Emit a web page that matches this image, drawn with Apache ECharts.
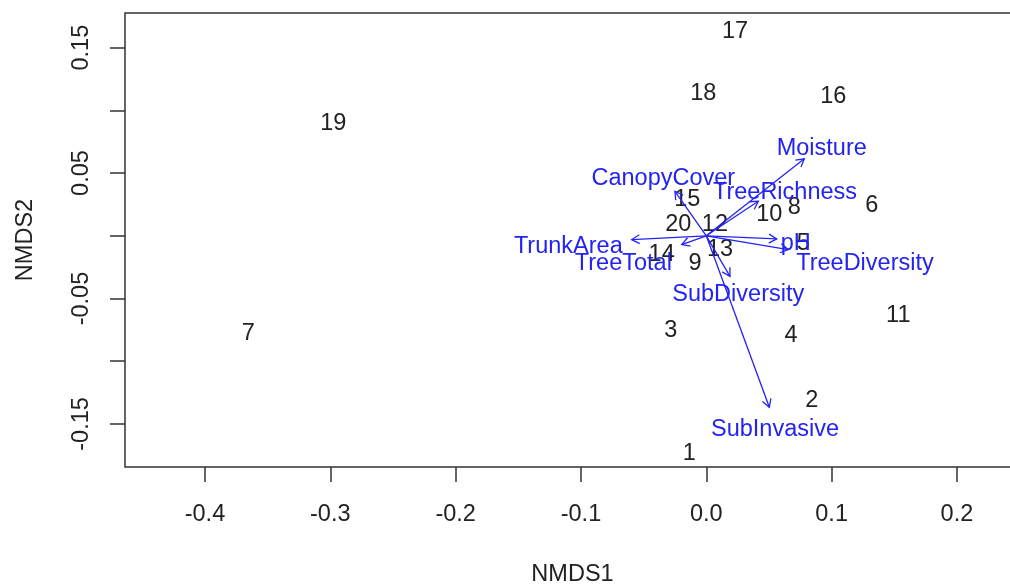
<!DOCTYPE html>
<html>
<head>
<meta charset="utf-8">
<script src="https://cdn.jsdelivr.net/npm/echarts@6/dist/echarts.min.js"></script>
<style>
html,body{margin:0;padding:0;background:#fff;}
#chart{width:1010px;height:585px;}
</style>
</head>
<body>
<div id="chart"></div>
<script>
// Site scores (NMDS1, NMDS2)
const sites = ['1','2','3','4','5','6','7','8','9','10','11','12','13','14','15','16','17','18','19','20'];
const nmds1 = [-0.0136, 0.0841, -0.0284, 0.0676, 0.0774, 0.1320, -0.3654, 0.0702, -0.0090, 0.0503, 0.1532, 0.0069, 0.0109, -0.0356, -0.0152, 0.1013, 0.0229, -0.0024, -0.2976, -0.0223];
const nmds2 = [-0.1721, -0.1295, -0.0736, -0.0776, -0.0049, 0.0257, -0.0763, 0.0241, -0.0204, 0.0183, -0.0616, 0.0103, -0.0097, -0.0132, 0.0303, 0.1128, 0.1645, 0.1154, 0.0907, 0.0103];

// Environmental fit vectors (arrow tips) and label positions
const variables = ['Moisture','TreeRichness','CanopyCover','TrunkArea','TreeTotal','pH','TreeDiversity','SubDiversity','SubInvasive'];
const arrowX = [0.0782, 0.0415, -0.0250, -0.0595, -0.0196, 0.0562, 0.0654, 0.0189, 0.0503];
const arrowY = [0.0614, 0.0276, 0.0355, -0.0030, -0.0070, -0.0025, -0.0110, -0.0323, -0.1367];
const labelX = [0.0921, 0.0628, -0.0343, -0.1101, -0.0662, 0.0714, 0.1266, 0.0255, 0.0548];
const labelY = [0.0710, 0.0361, 0.0475, -0.0070, -0.0204, -0.0046, -0.0204, -0.0456, -0.1526];

// Axis ticks
const xTicks = [-0.4, -0.3, -0.2, -0.1, 0.0, 0.1, 0.2];
const yTicks = [-0.15, -0.10, -0.05, 0.00, 0.05, 0.10, 0.15];
const yTickLabels = [-0.15, -0.05, 0.05, 0.15];

const FONT = '"Liberation Sans", Arial, sans-serif';
const BLUE = '#2323f2';
const INK = '#222';
const FS = 23.5;

const chart = echarts.init(document.getElementById('chart'), null, {renderer: 'canvas'});

const siteData = sites.map((s, i) => [nmds1[i], nmds2[i]]);
const arrowData = variables.map((v, i) => [arrowX[i], arrowY[i]]);
const arrowLabelData = variables.map((v, i) => [labelX[i], labelY[i]]);

function textItem(label, color) {
  return function (params, api) {
    const p = api.coord([api.value(0), api.value(1)]);
    return {
      type: 'text', x: p[0], y: p[1] + 2,
      style: {text: label[params.dataIndex], fill: color, fontSize: FS, fontFamily: FONT,
        align: 'center', verticalAlign: 'middle'}
    };
  };
}

chart.setOption({
  backgroundColor: '#fff',
  animation: false,
  grid: {
    left: 125, top: 13, width: 895, height: 454,
    outerBoundsMode: 'none', containLabel: false,
    show: true, borderColor: '#333', borderWidth: 1.5, backgroundColor: 'transparent'
  },
  xAxis: {
    type: 'value',
    min: -0.4638, max: 0.2503,
    splitLine: {show: false},
    axisLine: {show: false, onZero: false},
    axisTick: {show: true, length: 15, customValues: xTicks, lineStyle: {color: '#333', width: 1.5}},
    axisLabel: {show: true, customValues: xTicks, margin: 36, fontSize: FS, color: INK, fontFamily: FONT,
      formatter: v => v.toFixed(1)},
    name: 'NMDS1', nameLocation: 'middle', nameGap: 96,
    nameTextStyle: {fontSize: FS, color: INK, fontFamily: FONT}
  },
  yAxis: {
    type: 'value',
    min: -0.1843, max: 0.1776,
    splitLine: {show: false},
    axisLine: {show: false, onZero: false},
    axisTick: {show: true, length: 15, customValues: yTicks, lineStyle: {color: '#333', width: 1.5}},
    axisLabel: {show: true, customValues: yTickLabels, rotate: 90, margin: 31, fontSize: FS, color: INK, fontFamily: FONT,
      formatter: v => v.toFixed(2)},
    name: 'NMDS2', nameLocation: 'middle', nameGap: 87, nameRotate: 90,
    nameTextStyle: {fontSize: FS, color: INK, fontFamily: FONT}
  },
  series: [
    {
      type: 'custom',
      name: 'sites',
      coordinateSystem: 'cartesian2d',
      data: siteData,
      renderItem: textItem(sites, INK),
      z: 3
    },
    {
      type: 'custom',
      name: 'arrows',
      coordinateSystem: 'cartesian2d',
      data: arrowData,
      renderItem: function (params, api) {
        const p0 = api.coord([0, 0]);
        const p1 = api.coord([api.value(0), api.value(1)]);
        const ang = Math.atan2(p1[1] - p0[1], p1[0] - p0[0]);
        const hl = 9, ha = Math.PI / 6;
        const h1 = [p1[0] - hl * Math.cos(ang - ha), p1[1] - hl * Math.sin(ang - ha)];
        const h2 = [p1[0] - hl * Math.cos(ang + ha), p1[1] - hl * Math.sin(ang + ha)];
        return {
          type: 'group',
          children: [
            {type: 'line', shape: {x1: p0[0], y1: p0[1], x2: p1[0], y2: p1[1]},
              style: {stroke: BLUE, lineWidth: 1.3, fill: null}},
            {type: 'polyline', shape: {points: [h1, p1, h2]},
              style: {stroke: BLUE, lineWidth: 1.3, fill: null}}
          ]
        };
      },
      z: 4
    },
    {
      type: 'custom',
      name: 'arrowLabels',
      coordinateSystem: 'cartesian2d',
      data: arrowLabelData,
      renderItem: textItem(variables, BLUE),
      z: 5
    }
  ]
});
</script>
</body>
</html>
